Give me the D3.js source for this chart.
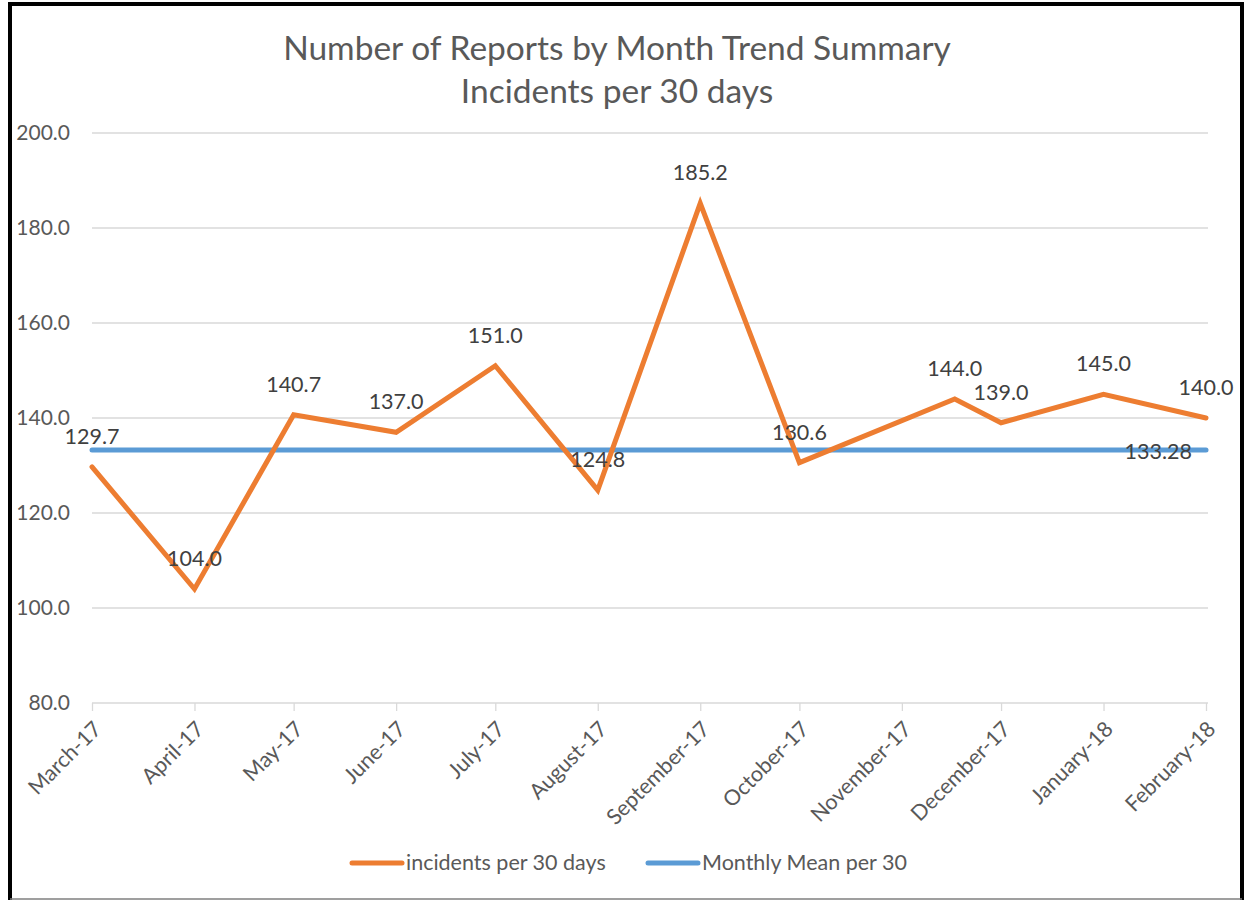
<!DOCTYPE html>
<html>
<head>
<meta charset="utf-8">
<script src="https://cdn.jsdelivr.net/npm/d3@7"></script>
<style>
  html, body { margin: 0; padding: 0; background: #fff; }
  svg { display: block; font-family: Lato, "Open Sans", sans-serif; }
</style>
</head>
<body>
<svg id="chart" width="1256" height="900"></svg>
<script>
// data
const dates = ["2017-03-01", "2017-04-01", "2017-05-01", "2017-06-01", "2017-07-01", "2017-08-01",
               "2017-09-01", "2017-10-01", "2017-11-17", "2017-12-01", "2018-01-01", "2018-02-01"];
const incidents = [129.7, 104.0, 140.7, 137.0, 151.0, 124.8, 185.2, 130.6, 144.0, 139.0, 145.0, 140.0];
const meanValue = 133.28;
const yTicks = [80, 100, 120, 140, 160, 180, 200];
const monthTicks = ["2017-03-01", "2017-04-01", "2017-05-01", "2017-06-01", "2017-07-01", "2017-08-01",
                    "2017-09-01", "2017-10-01", "2017-11-01", "2017-12-01", "2018-01-01", "2018-02-01"];
const titleLines = ["Number of Reports by Month Trend Summary", "Incidents per 30 days"];
const seriesNames = ["incidents per 30 days", "Monthly Mean per 30"];

const ORANGE = "#ED7D31", BLUE = "#5B9BD5", TEXT = "#595959", LABEL = "#404040";

const parse = d3.timeParse("%Y-%m-%d");
const pts = dates.map((d, i) => ({ date: parse(d), value: incidents[i] }));

const svg = d3.select("#chart");

// outer frame
svg.append("path")
    .attr("d", "M10,900 L10,4 L1242,4 L1242,900")
    .attr("fill", "none").attr("stroke", "#000").attr("stroke-width", 4);
svg.append("line").attr("x1", 10).attr("x2", 1242).attr("y1", 899).attr("y2", 899)
    .attr("stroke", "#7f7f7f").attr("stroke-width", 1.5);

const x = d3.scaleTime()
    .domain([parse(dates[0]), parse(dates[dates.length - 1])])
    .range([92, 1206]);
const y = d3.scaleLinear().domain([80, 200]).range([703, 133]);

// title
svg.append("g").selectAll("text")
    .data(titleLines).enter().append("text")
    .attr("x", 617).attr("y", (d, i) => 60 + i * 43)
    .attr("text-anchor", "middle")
    .attr("fill", TEXT).attr("font-size", 33.5)
    .text(d => d);

// gridlines
svg.append("g").selectAll("line")
    .data(yTicks.slice(1)).enter().append("line")
    .attr("x1", 92).attr("x2", 1208)
    .attr("y1", d => y(d)).attr("y2", d => y(d))
    .attr("stroke", "#d9d9d9").attr("stroke-width", 1.3);

// y axis labels
const yAxis = svg.append("g")
    .attr("transform", "translate(76,0)")
    .call(d3.axisLeft(y).tickValues(yTicks).tickFormat(d3.format(".1f")).tickSize(0).tickPadding(6));
yAxis.select(".domain").remove();
yAxis.selectAll("text").attr("fill", TEXT).attr("font-size", 21).attr("font-family", "Lato, sans-serif");

// x axis
const xAxis = svg.append("g")
    .attr("transform", `translate(0,${y(80)})`)
    .call(d3.axisBottom(x).tickValues(monthTicks.map(parse)).tickFormat(d3.timeFormat("%B-%y")).tickSize(8));
xAxis.select(".domain").attr("stroke", "#d9d9d9").attr("stroke-width", 1.5)
    .attr("d", `M92,0H1208`);
xAxis.selectAll(".tick line").attr("stroke", "#d9d9d9").attr("stroke-width", 1.3);
xAxis.selectAll(".tick text")
    .attr("fill", TEXT).attr("font-size", 21.5).attr("font-family", "Lato, sans-serif")
    .attr("text-anchor", "end")
    .attr("x", 0).attr("y", 0).attr("dy", "0.35em")
    .attr("transform", "translate(5,22) rotate(-45)");

// mean line
svg.append("line")
    .attr("x1", x(pts[0].date)).attr("x2", x(pts[pts.length - 1].date))
    .attr("y1", y(meanValue)).attr("y2", y(meanValue))
    .attr("stroke", BLUE).attr("stroke-width", 5).attr("stroke-linecap", "round");

// incidents line
const line = d3.line().x(d => x(d.date)).y(d => y(d.value));
svg.append("path")
    .datum(pts)
    .attr("d", line)
    .attr("fill", "none").attr("stroke", ORANGE).attr("stroke-width", 5)
    .attr("stroke-linejoin", "miter").attr("stroke-linecap", "round");

// data labels
svg.append("g").selectAll("text")
    .data(pts).enter().append("text")
    .attr("x", d => x(d.date)).attr("y", d => y(d.value) - 23)
    .attr("text-anchor", "middle")
    .attr("fill", LABEL).attr("font-size", 21.5)
    .text(d => d3.format(".1f")(d.value));

svg.append("text")
    .attr("x", x(pts[pts.length - 1].date) - 14).attr("y", y(meanValue) + 9)
    .attr("text-anchor", "end")
    .attr("fill", LABEL).attr("font-size", 21.5)
    .text(meanValue.toFixed(2));

// legend
const legend = svg.append("g");
const legendItems = [
    { name: seriesNames[0], color: ORANGE, x: 352 },
    { name: seriesNames[1], color: BLUE, x: 648 }
];
legend.selectAll("line")
    .data(legendItems).enter().append("line")
    .attr("x1", d => d.x).attr("x2", d => d.x + 50)
    .attr("y1", 863).attr("y2", 863)
    .attr("stroke", d => d.color).attr("stroke-width", 5).attr("stroke-linecap", "round");
legend.selectAll("text")
    .data(legendItems).enter().append("text")
    .attr("x", d => d.x + 54).attr("y", 870)
    .attr("fill", TEXT).attr("font-size", 21.5)
    .text(d => d.name);
</script>
</body>
</html>
